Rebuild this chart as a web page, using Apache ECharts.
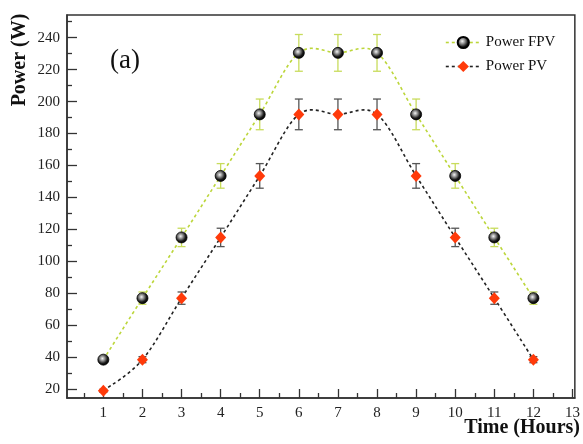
<!DOCTYPE html>
<html>
<head>
<meta charset="utf-8">
<script src="https://cdn.jsdelivr.net/npm/echarts@6/dist/echarts.min.js"></script>
<style>html,body{margin:0;padding:0;background:#fff}#c{width:583px;height:444px}</style>
</head>
<body>
<div id="c"></div>
<script>
const hours = [1,2,3,4,5,6,7,8,9,10,11,12];
const powerFPV = [38.5, 77, 115, 153.5, 192, 230.5, 230.5, 230.5, 192, 153.5, 115, 77];
const powerPV = [19, 38.5, 77, 115, 153.5, 192, 192, 192, 153.5, 115, 77, 38.5];
const errFPV = [1.9, 3.85, 5.75, 7.7, 9.6, 11.5, 11.5, 11.5, 9.6, 7.7, 5.75, 3.85];
const errPV = [0.95, 1.9, 3.85, 5.75, 7.7, 9.6, 9.6, 9.6, 7.7, 5.75, 3.85, 1.9];
const xTickLabels = [1,2,3,4,5,6,7,8,9,10,11,12,13];
const xMinorTicks = [0.5,1.5,2.5,3.5,4.5,5.5,6.5,7.5,8.5,9.5,10.5,11.5,12.5];
const yTickLabels = [20,40,60,80,100,120,140,160,180,200,220,240];
const yMinorTicks = [30,50,70,90,110,130,150,170,190,210,230,250];

const FONT = '"Liberation Serif","Times New Roman",serif';
const fpvColor = '#bcd63a';
const fpvErrColor = '#c8dc5c';
const pvColor = '#222';
const pvErrColor = '#555';

function errSeries(vals, errs, color) {
  return {
    type: 'custom',
    z: 3,
    silent: true,
    data: hours.map((h, i) => [h, vals[i], errs[i]]),
    encode: { x: 0, y: 1 },
    renderItem: function (params, api) {
      const x = api.value(0), y = api.value(1), e = api.value(2);
      const t = api.coord([x, y + e]);
      const b = api.coord([x, y - e]);
      const w = 4;
      const st = { stroke: color, lineWidth: 1.3 };
      return {
        type: 'group',
        children: [
          { type: 'line', shape: { x1: t[0], y1: t[1], x2: b[0], y2: b[1] }, style: st },
          { type: 'line', shape: { x1: t[0] - w, y1: t[1], x2: t[0] + w, y2: t[1] }, style: st },
          { type: 'line', shape: { x1: b[0] - w, y1: b[1], x2: b[0] + w, y2: b[1] }, style: st }
        ]
      };
    }
  };
}

// Catmull-Rom spline drawn through the data points, segment by segment
function splineSeries(vals, color) {
  const n = hours.length;
  return {
    type: 'custom',
    z: 2,
    silent: true,
    data: hours.map((h, i) => [h, vals[i]]),
    encode: { x: 0, y: 1 },
    renderItem: function (params, api) {
      const i = params.dataIndex;
      if (i >= n - 1) return null;
      const p = j => api.coord([hours[Math.max(0, Math.min(n - 1, j))], vals[Math.max(0, Math.min(n - 1, j))]]);
      const p0 = p(i - 1), p1 = p(i), p2 = p(i + 1), p3 = p(i + 2);
      return {
        type: 'bezierCurve',
        shape: {
          x1: p1[0], y1: p1[1], x2: p2[0], y2: p2[1],
          cpx1: p1[0] + (p2[0] - p0[0]) / 6, cpy1: p1[1] + (p2[1] - p0[1]) / 6,
          cpx2: p2[0] - (p3[0] - p1[0]) / 6, cpy2: p2[1] - (p3[1] - p1[1]) / 6
        },
        style: { stroke: color, lineWidth: 1.6, lineDash: [3, 3], fill: null }
      };
    }
  };
}

const sphere = {
  type: 'radial', x: 0.42, y: 0.4, r: 0.6,
  colorStops: [
    { offset: 0, color: '#f4f4f4' },
    { offset: 0.35, color: '#8a8a8a' },
    { offset: 0.7, color: '#1a1a1a' },
    { offset: 1, color: '#000' }
  ]
};

const axisLineStyle = { color: '#333', width: 1.5 };

const option = {
  animation: false,
  backgroundColor: '#fff',
  grid: { left: 67, top: 15, right: 8, bottom: 46, show: true, borderColor: '#333', borderWidth: 1.5, backgroundColor: 'transparent' },
  legend: {
    left: 440, top: 30, orient: 'vertical',
    itemWidth: 35, itemHeight: 14, itemGap: 9,
    textStyle: { fontFamily: FONT, fontSize: 15, color: '#111' },
    data: [
      { name: 'Power FPV', lineStyle: { color: fpvColor, width: 1.6, type: [3, 3], opacity: 1 } },
      { name: 'Power PV', lineStyle: { color: pvColor, width: 1.6, type: [3, 3], opacity: 1 } }
    ]
  },
  xAxis: [
    {
      type: 'value', position: 'bottom', min: 0.07, max: 13.06,
      axisLine: { show: true, lineStyle: axisLineStyle },
      axisTick: { show: true, inside: true, length: 9, customValues: xTickLabels, lineStyle: { color: '#333', width: 1.3 } },
      axisLabel: { customValues: xTickLabels, fontFamily: FONT, fontSize: 15, color: '#222', margin: 8 },
      splitLine: { show: false }
    },
    {
      type: 'value', position: 'bottom', min: 0.07, max: 13.06,
      axisLine: { show: false },
      axisTick: { show: true, inside: true, length: 5, customValues: xMinorTicks, lineStyle: { color: '#333', width: 1.3 } },
      axisLabel: { show: false },
      splitLine: { show: false }
    }
  ],
  yAxis: [
    {
      type: 'value', position: 'left', min: 14.5, max: 254.2,
      axisLine: { show: true, lineStyle: axisLineStyle },
      axisTick: { show: true, inside: true, length: 10, customValues: yTickLabels, lineStyle: { color: '#333', width: 1.3 } },
      axisLabel: { customValues: yTickLabels, fontFamily: FONT, fontSize: 15, color: '#222', margin: 7 },
      splitLine: { show: false }
    },
    {
      type: 'value', position: 'left', min: 14.5, max: 254.2,
      axisLine: { show: false },
      axisTick: { show: true, inside: true, length: 5, customValues: yMinorTicks, lineStyle: { color: '#333', width: 1.3 } },
      axisLabel: { show: false },
      splitLine: { show: false }
    }
  ],
  graphic: [
    { type: 'text', left: 110, top: 47, style: { text: '(a)', font: '27px ' + FONT, fill: '#111' } },
    { type: 'text', x: 20, y: 60, rotation: Math.PI / 2, style: { text: 'Power (W)', font: 'bold 20px ' + FONT, fill: '#111', align: 'center', verticalAlign: 'middle' } },
    { type: 'text', x: 580, y: 428, style: { text: 'Time (Hours)', font: 'bold 20px ' + FONT, fill: '#111', align: 'right', verticalAlign: 'middle' } }
  ],
  series: [
    splineSeries(powerFPV, fpvColor),
    splineSeries(powerPV, pvColor),
    errSeries(powerFPV, errFPV, fpvErrColor),
    errSeries(powerPV, errPV, pvErrColor),
    {
      name: 'Power FPV', type: 'line', z: 4,
      data: hours.map((h, i) => [h, powerFPV[i]]),
      symbol: 'circle', symbolSize: 11,
      lineStyle: { color: fpvColor, width: 1.6, opacity: 0 },
      itemStyle: { color: sphere, borderColor: '#000', borderWidth: 0.8 }
    },
    {
      name: 'Power PV', type: 'line', z: 4,
      data: hours.map((h, i) => [h, powerPV[i]]),
      symbol: 'diamond', symbolSize: [11, 12],
      lineStyle: { color: pvColor, width: 1.6, opacity: 0 },
      itemStyle: { color: '#ff3a0a' }
    }
  ]
};
echarts.init(document.getElementById('c')).setOption(option);
</script>
</body>
</html>
